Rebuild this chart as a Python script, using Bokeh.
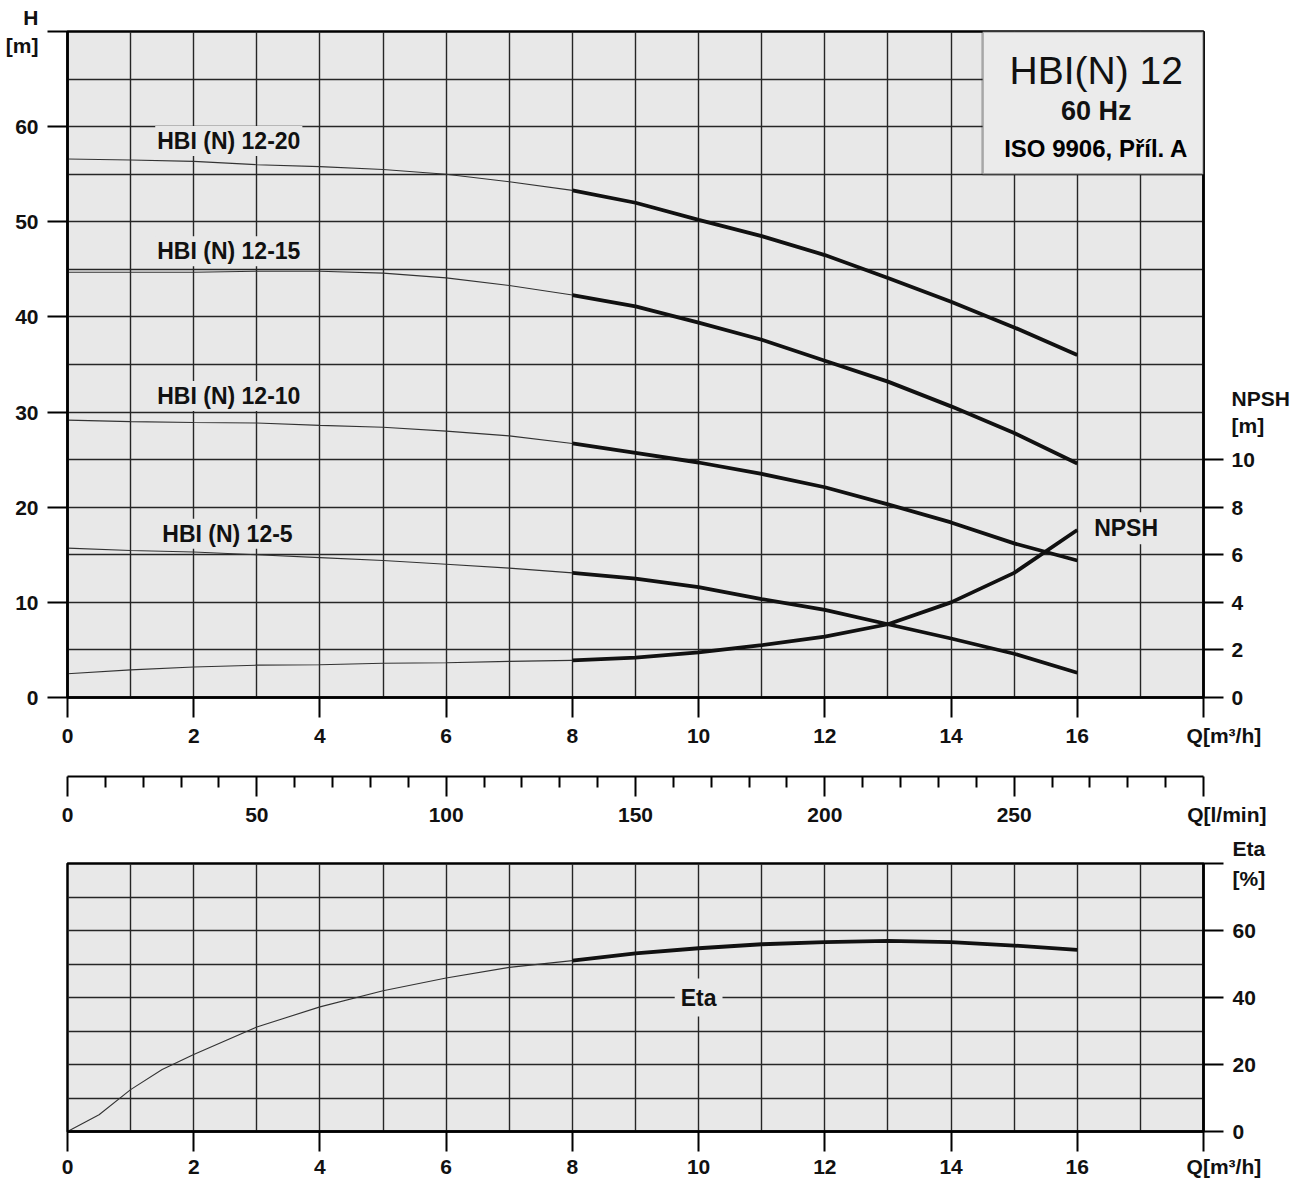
from bokeh.plotting import figure
from bokeh.models import Range1d, LinearAxis, FixedTicker, Label, BoxAnnotation
from bokeh.layouts import column
from bokeh.embed import file_html
from bokeh.resources import INLINE

# ---------------- data ----------------
q = [0, 1, 2, 3, 4, 5, 6, 7, 8, 9, 10, 11, 12, 13, 14, 15, 16]
h_12_20 = [56.6, 56.5, 56.35, 56.0, 55.8, 55.5, 55.0, 54.2, 53.3, 52.0, 50.2, 48.5, 46.5, 44.1, 41.6, 38.9, 36.0]
h_12_15 = [44.7, 44.7, 44.7, 44.8, 44.8, 44.6, 44.1, 43.3, 42.3, 41.1, 39.4, 37.6, 35.4, 33.2, 30.6, 27.8, 24.6]
h_12_10 = [29.15, 29.0, 28.9, 28.85, 28.6, 28.4, 28.0, 27.5, 26.7, 25.7, 24.7, 23.5, 22.1, 20.3, 18.4, 16.2, 14.4]
h_12_5 = [15.7, 15.45, 15.3, 15.0, 14.7, 14.4, 14.0, 13.6, 13.1, 12.5, 11.6, 10.35, 9.2, 7.7, 6.2, 4.6, 2.6]
npsh = [1.0, 1.16, 1.28, 1.36, 1.38, 1.44, 1.46, 1.52, 1.56, 1.68, 1.9, 2.2, 2.56, 3.08, 4.0, 5.24, 7.04]
q_eta = [0, 0.5, 1, 1.5, 2, 3, 4, 5, 6, 7, 8, 9, 10, 11, 12, 13, 14, 15, 16]
eta = [0, 5, 12.5, 18.5, 23, 31.2, 37.2, 42, 45.8, 49, 51, 53.2, 54.7, 55.9, 56.5, 56.9, 56.5, 55.5, 54.2]
q_split = 8  # thin line before, thick line after

curve_names = ["HBI (N) 12-20", "HBI (N) 12-15", "HBI (N) 12-10", "HBI (N) 12-5"]
curves = [h_12_20, h_12_15, h_12_10, h_12_5]

q_ticks = [0, 2, 4, 6, 8, 10, 12, 14, 16, 18]
h_ticks = [0, 10, 20, 30, 40, 50, 60, 70]
npsh_ticks = [0, 2, 4, 6, 8, 10]
lmin_ticks = [0, 50, 100, 150, 200, 250, 300]
lmin_minor = [v for v in range(0, 301, 10) if v % 50 != 0]
eta_ticks = [0, 20, 40, 60, 80]

NB = "\u00a0"
FONT = "Liberation Sans"
BG = "#e8e8e8"
GRID = "#262626"
TICK_FS = "21px"
W_FRAME = 1136
ML, MR = 67, 88


def style_axis(ax):
    ax.axis_line_width = 2.5
    ax.axis_line_color = "black"
    ax.major_tick_line_width = 2
    ax.major_tick_line_color = "black"
    ax.major_tick_out = 20
    ax.major_tick_in = 0
    ax.minor_tick_line_color = None
    ax.major_label_text_font = FONT
    ax.major_label_text_font_style = "bold"
    ax.major_label_text_font_size = TICK_FS
    ax.major_label_text_color = "#111111"
    ax.major_label_standoff = 9


def style_frame(p):
    p.background_fill_color = BG
    p.border_fill_color = "white"
    p.outline_line_color = "black"
    p.outline_line_width = 2.5
    for g in (p.xgrid[0], p.ygrid[0]):
        g.grid_line_color = GRID
        g.grid_line_width = 1.4


def split(xs, ys):
    thin = [(x, y) for x, y in zip(xs, ys) if x <= q_split]
    thick = [(x, y) for x, y in zip(xs, ys) if x >= q_split]
    return ([a for a, _ in thin], [b for _, b in thin]), ([a for a, _ in thick], [b for _, b in thick])


# ---------------- top chart ----------------
p1 = figure(frame_width=W_FRAME, frame_height=666, x_range=Range1d(0, 18), y_range=Range1d(0, 70),
            min_border_left=ML, min_border_right=MR, min_border_top=31, min_border_bottom=57,
            output_backend="svg", toolbar_location=None)
style_frame(p1)
p1.xgrid[0].ticker = FixedTicker(ticks=list(range(0, 19)))
p1.ygrid[0].ticker = FixedTicker(ticks=list(range(0, 71, 5)))
p1.xaxis[0].ticker = FixedTicker(ticks=q_ticks)
p1.xaxis[0].major_label_overrides = {18: NB * 7 + "Q[m³/h]"}
p1.yaxis[0].ticker = FixedTicker(ticks=h_ticks)
p1.yaxis[0].major_label_overrides = {70: "H\n[m]"}
style_axis(p1.xaxis[0])
style_axis(p1.yaxis[0])
p1.xaxis[0].major_label_standoff = 6
p1.yaxis[0].major_label_text_line_height = 1.25

p1.extra_y_ranges = {"npsh": Range1d(0, 28)}
# tick marks of the NPSH scale (labels left empty)
ax_npsh_ticks = LinearAxis(y_range_name="npsh", ticker=FixedTicker(ticks=npsh_ticks))
style_axis(ax_npsh_ticks)
ax_npsh_ticks.major_label_overrides = {t: "" for t in npsh_ticks}
ax_npsh_ticks.major_label_standoff = 0
p1.add_layout(ax_npsh_ticks, "right")
# labels of the NPSH scale (no marks)
ax_npsh = LinearAxis(y_range_name="npsh", ticker=FixedTicker(ticks=npsh_ticks + [12]))
style_axis(ax_npsh)
ax_npsh.major_label_overrides = {12: "NPSH\n[m]"}
ax_npsh.major_label_text_line_height = 1.2
ax_npsh.major_tick_out = 0
ax_npsh.major_tick_line_color = None
ax_npsh.axis_line_color = None
ax_npsh.major_label_standoff = 8
p1.add_layout(ax_npsh, "right")

for ys in curves:
    (tx, ty), (kx, ky) = split(q, ys)
    p1.line(tx, ty, line_color="#333333", line_width=1.1)
    p1.line(kx, ky, line_color="#111111", line_width=3.8)
(tx, ty), (kx, ky) = split(q, npsh)
p1.line(tx, ty, y_range_name="npsh", line_color="#333333", line_width=1.1)
p1.line(kx, ky, y_range_name="npsh", line_color="#111111", line_width=3.8)

label_pos = [(1.39, 58.5), (1.39, 46.9), (1.39, 31.7), (1.47, 17.2)]
for name, (lx, ly) in zip(curve_names, label_pos):
    p1.add_layout(Label(x=lx, y=ly, text=name, text_font=FONT, text_font_style="bold",
                        text_font_size="23px", text_color="#111111", text_baseline="middle",
                        background_fill_color=BG, padding=2))
p1.add_layout(Label(x=16.22, y=17.8, text="NPSH", text_font=FONT, text_font_style="bold",
                    text_font_size="23px", text_color="#111111", text_baseline="middle",
                    background_fill_color=BG, padding=3))

# legend box
p1.add_layout(BoxAnnotation(left=14.5, right=18, bottom=55, top=70, fill_color="#ebebeb", fill_alpha=1,
                            line_color="#111111", line_width=2.5))
p1.add_layout(Label(x=16.3, y=65.9, text="HBI(N) 12", text_font=FONT, text_font_size="39px",
                    text_color="#111111", text_align="center", text_baseline="middle"))
p1.add_layout(Label(x=16.3, y=61.6, text="60 Hz", text_font=FONT, text_font_size="27px",
                    text_font_style="bold", text_color="#111111", text_align="center", text_baseline="middle"))
p1.add_layout(Label(x=16.3, y=57.7, text="ISO 9906, Příl. A", text_font=FONT, text_font_size="24px",
                    text_font_style="bold", text_color="#000000", text_align="center", text_baseline="middle"))

# ---------------- middle l/min axis ----------------
p2 = figure(frame_width=W_FRAME, frame_height=5, x_range=Range1d(0, 300), y_range=Range1d(0, 1),
            min_border_left=ML, min_border_right=MR, min_border_top=17, min_border_bottom=55,
            y_axis_location=None, output_backend="svg", toolbar_location=None)
p2.background_fill_alpha = 0
p2.outline_line_color = None
p2.xgrid.visible = False
p2.ygrid.visible = False
ax2 = p2.xaxis[0]
ax2.ticker = FixedTicker(ticks=lmin_ticks, minor_ticks=lmin_minor)
style_axis(ax2)
ax2.major_label_overrides = {300: NB * 8 + "Q[l/min]"}
ax2.major_label_standoff = 6
ax2.axis_line_width = 2
ax2.minor_tick_line_color = "black"
ax2.minor_tick_line_width = 2
ax2.minor_tick_out = 11
ax2.minor_tick_in = 0

# ---------------- bottom efficiency chart ----------------
p3 = figure(frame_width=W_FRAME, frame_height=268, x_range=Range1d(0, 18), y_range=Range1d(0, 80),
            min_border_left=ML, min_border_right=MR, min_border_top=32, min_border_bottom=48,
            y_axis_location="right", output_backend="svg", toolbar_location=None)
style_frame(p3)
p3.xgrid[0].ticker = FixedTicker(ticks=list(range(0, 19)))
p3.ygrid[0].ticker = FixedTicker(ticks=list(range(0, 81, 10)))
p3.xaxis[0].ticker = FixedTicker(ticks=q_ticks)
p3.yaxis[0].ticker = FixedTicker(ticks=eta_ticks)
style_axis(p3.xaxis[0])
style_axis(p3.yaxis[0])
p3.xaxis[0].major_label_overrides = {18: NB * 7 + "Q[m³/h]"}
p3.xaxis[0].major_label_standoff = 3
p3.yaxis[0].major_label_overrides = {80: "Eta\n[%]"}
p3.yaxis[0].major_label_text_line_height = 1.3

(tx, ty), (kx, ky) = split(q_eta, eta)
p3.line(tx, ty, line_color="#333333", line_width=1.1)
p3.line(kx, ky, line_color="#111111", line_width=3.8)
p3.add_layout(Label(x=10.0, y=40, text="Eta", text_font=FONT, text_font_style="bold",
                    text_font_size="23px", text_color="#111111", text_align="center", text_baseline="middle",
                    background_fill_color=BG, padding=6))

layout = column(p1, p2, p3, spacing=0)
open("out.html", "w").write(file_html(layout, INLINE))
